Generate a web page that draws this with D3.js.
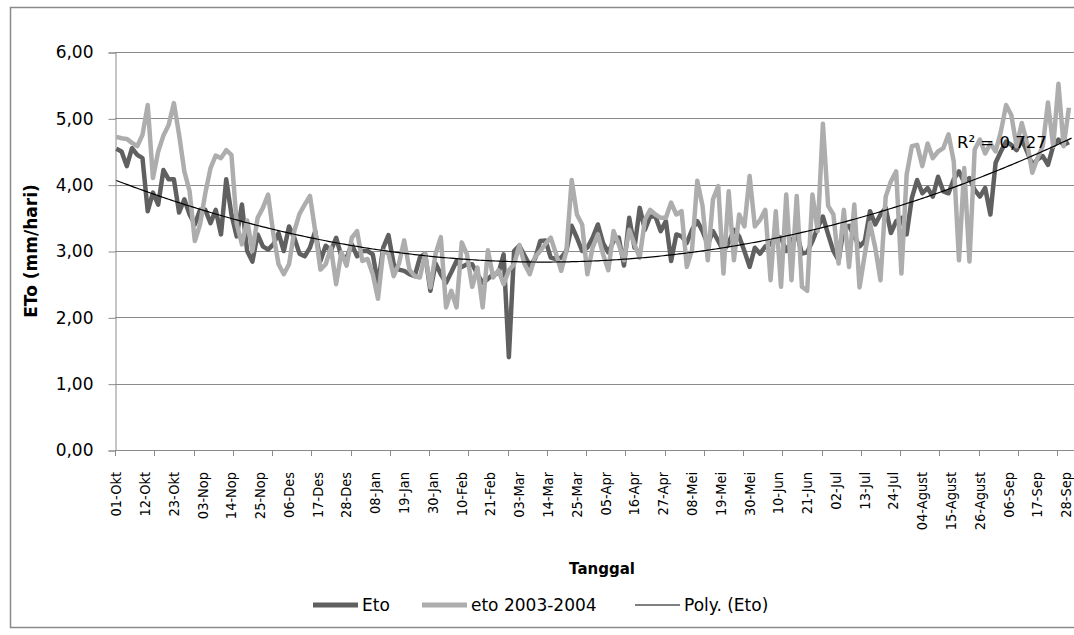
<!DOCTYPE html>
<html>
<head>
<meta charset="utf-8">
<script src="https://cdn.jsdelivr.net/npm/d3@7"></script>
<style>
  body { margin: 0; background: #fff; }
  text { font-family: "DejaVu Sans", sans-serif; fill: #000; }
</style>
</head>
<body>
<svg id="chart"></svg>
<script>
// daily ETo, sampled every 2 days (day 0 = 01-Okt, day 364 = 29-Sep)
var step = 2
var eto = [
  4.54, 4.50, 4.28, 4.55, 4.45, 4.40, 3.60, 3.88, 3.70, 4.22,
  4.08, 4.08, 3.58, 3.78, 3.55, 3.40, 3.62, 3.62, 3.42, 3.62,
  3.25, 4.08, 3.55, 3.22, 3.70, 3.00, 2.84, 3.25, 3.07, 3.02,
  3.10, 3.27, 3.00, 3.37, 3.20, 2.96, 2.92, 3.05, 3.30, 2.85,
  3.08, 3.00, 3.20, 2.92, 2.90, 3.10, 2.92, 3.00, 3.00, 2.95,
  2.50, 3.05, 3.24, 2.80, 2.72, 2.70, 2.65, 2.62, 2.90, 2.96,
  2.40, 2.81, 2.65, 2.52, 2.68, 2.85, 2.76, 2.80, 2.80, 2.65,
  2.52, 2.58, 2.65, 2.66, 2.95, 1.40, 3.00, 3.08, 2.93, 2.78,
  2.88, 3.15, 3.16, 2.90, 2.88, 2.90, 3.00, 3.38, 3.20, 3.00,
  3.05, 3.20, 3.40, 3.12, 2.98, 3.15, 3.20, 2.78, 3.50, 3.05,
  3.65, 3.32, 3.52, 3.52, 3.30, 3.45, 2.85, 3.25, 3.22, 3.12,
  3.32, 3.45, 3.30, 3.10, 3.30, 3.15, 3.00, 3.12, 3.32, 3.22,
  3.00, 2.76, 3.05, 2.96, 3.07, 3.10, 3.22, 3.20, 3.00, 3.15,
  3.27, 2.96, 2.98, 3.15, 3.35, 3.52, 3.25, 3.00, 2.86, 3.35,
  3.38, 3.22, 3.07, 3.15, 3.60, 3.40, 3.55, 3.65, 3.27, 3.45,
  3.50, 3.25, 3.80, 4.07, 3.87, 3.95, 3.82, 4.12, 3.90, 3.87,
  4.08, 4.20, 4.03, 4.10, 3.92, 3.82, 3.95, 3.55, 4.33, 4.50,
  4.65, 4.60, 4.52, 4.68, 4.50, 4.30, 4.38, 4.43, 4.30, 4.58,
  4.68, 4.60, 4.64
]
var eto0304 = [
  4.72, 4.70, 4.69, 4.63, 4.58, 4.75, 5.20, 4.10, 4.50, 4.74,
  4.90, 5.23, 4.75, 4.20, 3.90, 3.15, 3.40, 3.87, 4.25, 4.44,
  4.40, 4.52, 4.45, 3.41, 3.10, 3.46, 3.00, 3.50, 3.65, 3.85,
  3.26, 2.80, 2.65, 2.80, 3.30, 3.56, 3.70, 3.83, 3.30, 2.72,
  2.80, 3.05, 2.50, 2.98, 2.78, 3.20, 3.30, 2.85, 2.88, 2.65,
  2.28, 3.00, 2.96, 2.62, 2.81, 3.16, 2.72, 2.62, 2.60, 2.96,
  2.45, 2.96, 3.21, 2.15, 2.40, 2.15, 3.13, 2.95, 2.46, 2.75,
  2.15, 3.01, 2.60, 2.71, 2.50, 2.71, 2.80, 3.09, 2.80, 2.65,
  2.91, 3.00, 3.11, 3.20, 2.96, 2.70, 3.00, 4.07, 3.55, 3.40,
  2.65, 3.05, 3.25, 2.95, 2.71, 3.30, 3.10, 2.86, 3.32, 3.10,
  2.90, 3.47, 3.62, 3.55, 3.50, 3.50, 3.73, 3.55, 3.60, 2.76,
  3.02, 4.06, 3.68, 2.86, 3.78, 3.98, 2.66, 3.90, 2.86, 3.55,
  3.37, 4.13, 3.37, 3.47, 3.62, 2.56, 3.60, 2.46, 3.85, 2.56,
  3.83, 2.46, 2.40, 3.85, 3.30, 4.92, 3.68, 3.55, 2.81, 3.62,
  2.76, 3.70, 2.45, 2.95, 3.42, 3.05, 2.56, 3.82, 4.05, 4.20,
  2.66, 4.15, 4.58, 4.60, 4.28, 4.62, 4.40, 4.50, 4.55, 4.76,
  4.35, 2.86, 4.25, 2.84, 4.53, 4.68, 4.47, 4.62, 4.50, 4.80,
  5.20, 5.05, 4.58, 4.93, 4.63, 4.18, 4.40, 4.58, 5.24, 4.58,
  5.52, 4.58, 5.16
]
var nDays = 366
var labelEvery = 11
var tickEvery = 15
var dateLabels = ['01-Okt', '12-Okt', '23-Okt', '03-Nop', '14-Nop', '25-Nop', '06-Des', '17-Des',
  '28-Des', '08-Jan', '19-Jan', '30-Jan', '10-Feb', '21-Feb', '03-Mar', '14-Mar', '25-Mar',
  '05-Apr', '16-Apr', '27-Apr', '08-Mei', '19-Mei', '30-Mei', '10-Jun', '21-Jun', '02-Jul',
  '13-Jul', '24-Jul', '04-Agust', '15-Agust', '26-Agust', '06-Sep', '17-Sep', '28-Sep']
var yTicks = [0, 1, 2, 3, 4, 5, 6]
var seriesNames = ['Eto', 'eto 2003-2004', 'Poly. (Eto)']
var r2Text = 'R\u00b2 = 0,727'

var W = 1074, H = 635
var svg = d3.select('#chart').attr('width', W).attr('height', H)

var x = d3.scaleLinear().domain([0, nDays]).range([115, 115 + nDays * 2.617])
var y = d3.scaleLinear().domain([0, 6]).range([450, 52])
var fmt = function(v){ return d3.format('.2f')(v).replace('.', ',') }

// outer chart border
svg.append('rect')
    .attr('x', 10.5).attr('y', 7.5)
    .attr('width', W).attr('height', 620)
    .style('fill', 'none').style('stroke', '#8a8a8a').style('stroke-width', 1.5)

// gridlines
svg.selectAll('line.grid')
    .data(yTicks.slice(1))
    .enter()
    .append('line')
    .attr('x1', x(0)).attr('x2', W)
    .attr('y1', function(d){ return Math.round(y(d)) + 0.5 })
    .attr('y2', function(d){ return Math.round(y(d)) + 0.5 })
    .style('stroke', '#8a8a8a').style('stroke-width', 1)

// y axis
var yAxis = d3.axisLeft(y).tickValues(yTicks).tickSize(7).tickFormat(fmt)
var gy = svg.append('g').attr('transform', 'translate(' + (x(0) + 0.5) + ',0.5)').call(yAxis)
gy.select('.domain').style('stroke', '#8a8a8a')
gy.selectAll('.tick line').style('stroke', '#8a8a8a')
gy.selectAll('.tick text')
    .attr('x', -22)
    .style('font-size', '17px').style('font-family', 'DejaVu Sans').style('fill', '#000')

// x axis line and ticks
svg.append('line')
    .attr('x1', x(0)).attr('x2', W)
    .attr('y1', 450.5).attr('y2', 450.5)
    .style('stroke', '#8a8a8a').style('stroke-width', 1)
svg.selectAll('line.xtick')
    .data(d3.range(0, nDays, tickEvery))
    .enter()
    .append('line')
    .attr('x1', function(d){ return Math.round(x(d)) + 0.5 })
    .attr('x2', function(d){ return Math.round(x(d)) + 0.5 })
    .attr('y1', 450).attr('y2', 456)
    .style('stroke', '#8a8a8a')

/* labels are a bit wider across than the font gives, so stretch them sideways */
svg.selectAll('text.xlab')
    .data(dateLabels)
    .enter()
    .append('text')
    .attr('transform', function(d, i){
        return 'translate(' + (x(i * labelEvery + 0.5) - 0.5) + ',472) scale(1.15,1) rotate(-90)'
    })
    .attr('text-anchor', 'end')
    .attr('dy', '0.36em')
    .style('font-size', '13px')
    .text(function(d){ return d })

// series
var line = d3.line()
    .x(function(d, i){ return x(i * step + 0.5) })
    .y(function(d){ return y(d) })

svg.append('path').datum(eto)
    .attr('d', line)
    .style('fill', 'none').style('stroke', '#606060').style('stroke-width', 4.5)
    .style('stroke-linejoin', 'round')
svg.append('path').datum(eto0304)
    .attr('d', line)
    .style('fill', 'none').style('stroke', '#adadad').style('stroke-width', 4.5)
    .style('stroke-linejoin', 'round')

// polynomial (order 2) trendline fitted to Eto
function polyFit(xs, ys){
    var s = [0, 0, 0, 0, 0], t = [0, 0, 0]
    xs.forEach(function(xv, i){
        var p = 1
        for (var k = 0; k < 5; k++){ s[k] += p; if (k < 3) t[k] += p * ys[i]; p *= xv }
    })
    var A = [[s[0], s[1], s[2], t[0]], [s[1], s[2], s[3], t[1]], [s[2], s[3], s[4], t[2]]]
    for (var c = 0; c < 3; c++){
        for (var r = c + 1; r < 3; r++){
            var f = A[r][c] / A[c][c]
            for (var k2 = c; k2 < 4; k2++) A[r][k2] -= f * A[c][k2]
        }
    }
    var b = [0, 0, 0]
    for (var r2 = 2; r2 >= 0; r2--){
        var sum = A[r2][3]
        for (var k3 = r2 + 1; k3 < 3; k3++) sum -= A[r2][k3] * b[k3]
        b[r2] = sum / A[r2][r2]
    }
    return b
}
var coef = polyFit(eto.map(function(d, i){ return i * step }), eto)
var trend = d3.range(0, nDays).map(function(d){ return [d, coef[0] + coef[1] * d + coef[2] * d * d] })
svg.append('path').datum(trend)
    .attr('d', d3.line().x(function(d){ return x(d[0] + 0.5) }).y(function(d){ return y(d[1]) }))
    .style('fill', 'none').style('stroke', '#000').style('stroke-width', 1.2)

svg.append('text')
    .attr('x', 957).attr('y', 148)
    .style('font-size', '16.5px')
    .text(r2Text)

// axis titles
svg.append('text')
    .attr('x', 602).attr('y', 574)
    .attr('text-anchor', 'middle')
    .style('font-size', '15px').style('font-weight', 'bold')
    .text('Tanggal')
svg.append('text')
    .attr('transform', 'translate(31,251) rotate(-90)')
    .attr('text-anchor', 'middle')
    .attr('dy', '0.36em')
    .style('font-size', '17px').style('font-weight', 'bold')
    .text('ETo (mm/hari)')

// legend
var legend = [
    {name: seriesNames[0], x: 313, color: '#606060', w: 5},
    {name: seriesNames[1], x: 422, color: '#adadad', w: 5},
    {name: seriesNames[2], x: 635, color: '#000', w: 1}
]
var lg = svg.selectAll('g.legend')
    .data(legend)
    .enter()
    .append('g')
    .attr('transform', function(d){ return 'translate(' + d.x + ',605)' })
lg.append('line')
    .attr('x1', 0).attr('x2', 45)
    .style('stroke', function(d){ return d.color })
    .style('stroke-width', function(d){ return d.w })
lg.append('text')
    .attr('x', 49).attr('dy', '0.36em')
    .style('font-size', '17px')
    .text(function(d){ return d.name })
</script>
</body>
</html>
